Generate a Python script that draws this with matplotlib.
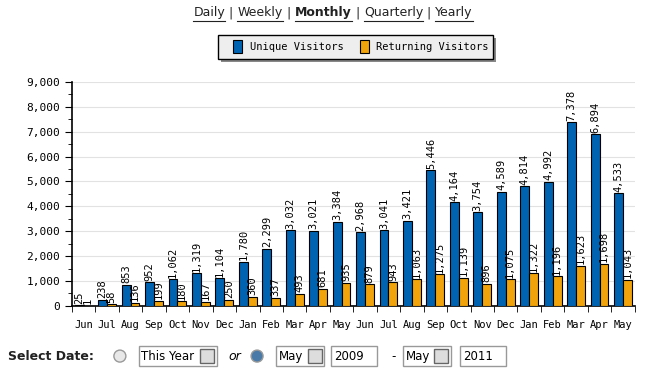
import numpy as np
import matplotlib.pyplot as plt
from matplotlib.patches import Rectangle, Ellipse
from matplotlib.lines import Line2D
from matplotlib.ticker import FuncFormatter, MultipleLocator

months = ["Jun", "Jul", "Aug", "Sep", "Oct", "Nov", "Dec", "Jan", "Feb", "Mar", "Apr", "May",
          "Jun", "Jul", "Aug", "Sep", "Oct", "Nov", "Dec", "Jan", "Feb", "Mar", "Apr", "May"]
unique = [25, 238, 853, 952, 1062, 1319, 1104, 1780, 2299, 3032, 3021, 3384,
          2968, 3041, 3421, 5446, 4164, 3754, 4589, 4814, 4992, 7378, 6894, 4533]
returning = [1, 58, 136, 199, 180, 167, 250, 360, 337, 493, 681, 935,
             879, 943, 1063, 1275, 1139, 896, 1075, 1322, 1196, 1623, 1698, 1043]
links = ["Daily", "Weekly", "Monthly", "Quarterly", "Yearly"]

BLUE = "#0063b1"
ORANGE = "#f0a30a"
MONO = "DejaVu Sans Mono"


def header(fig, y):
    r = fig.canvas.get_renderer()
    W = fig.bbox.width
    items = []
    for i, l in enumerate(links):
        items.append((l, True))
        if i < len(links) - 1:
            items.append((" | ", False))
    texts = []
    for t, is_link in items:
        txt = fig.text(0, y, t, ha="left", va="center", fontsize=9, color="#222",
                       weight="bold" if t == "Monthly" else "normal")
        texts.append((txt, is_link))
    widths = [tx.get_window_extent(r).width / W for tx, _ in texts]
    x = 0.5 - sum(widths) / 2
    for (tx, is_link), wd in zip(texts, widths):
        tx.set_x(x)
        if is_link:
            fig.add_artist(Line2D([x, x + wd], [y - 0.023, y - 0.023], color="#222",
                                  linewidth=0.8, transform=fig.transFigure))
        x += wd


def radio(fig, x, y, fc):
    d = 0.018
    fig.add_artist(Ellipse((x, y), d, d * 666 / 369, transform=fig.transFigure,
                           facecolor=fc, edgecolor="#999"))


def main():
    fig = plt.figure(figsize=(6.66, 3.69), dpi=100)
    ax = fig.add_axes([0.108, 0.171, 0.845, 0.607])

    x = np.arange(len(months))
    w = 0.38
    ax.bar(x - w / 2, unique, w, color=BLUE, edgecolor="black", linewidth=0.8, zorder=3)
    ax.bar(x + w / 2, returning, w, color=ORANGE, edgecolor="black", linewidth=0.8, zorder=3)

    for xi, u, r in zip(x, unique, returning):
        ax.text(xi - w / 2, u + 60, f"{u:,}", rotation=90, ha="center", va="bottom",
                fontsize=7.5, family=MONO, zorder=4)
        ax.text(xi + w / 2, r + 60, f"{r:,}", rotation=90, ha="center", va="bottom",
                fontsize=7.5, family=MONO, zorder=4)

    ax.set_xlim(-0.5, len(months) - 0.5)
    ax.set_ylim(0, 9000)
    ax.yaxis.set_major_locator(MultipleLocator(1000))
    ax.yaxis.set_minor_locator(MultipleLocator(500))
    ax.yaxis.set_major_formatter(FuncFormatter(lambda v, p: f"{int(v):,}"))
    ax.grid(axis="y", which="major", color="#e2e2e2", linewidth=0.8, zorder=0)

    ax.set_xticks(x)
    ax.set_xticklabels(months, family=MONO, fontsize=7.5)
    ax.set_xticks(np.arange(len(months) + 1) - 0.5, minor=True)
    ax.tick_params(axis="x", which="major", length=0, pad=10)
    ax.tick_params(axis="x", which="minor", length=4, direction="out")
    ax.tick_params(axis="y", which="major", length=5, direction="out", labelsize=8)
    ax.tick_params(axis="y", which="minor", length=3, direction="out")
    for lab in ax.get_yticklabels():
        lab.set_family(MONO)

    for s in ["top", "right"]:
        ax.spines[s].set_visible(False)
    ax.spines["left"].set_linewidth(1.2)
    ax.spines["bottom"].set_linewidth(1.2)

    header(fig, 0.965)

    # legend box
    fig.add_artist(Rectangle((0.332, 0.832), 0.413, 0.066, transform=fig.transFigure,
                             facecolor="#888888", edgecolor="none"))
    fig.add_artist(Rectangle((0.327, 0.840), 0.413, 0.066, transform=fig.transFigure,
                             facecolor="#eeeeee", edgecolor="black", linewidth=1))
    fig.add_artist(Rectangle((0.350, 0.857), 0.014, 0.035, transform=fig.transFigure,
                             facecolor=BLUE, edgecolor="black", linewidth=0.8))
    fig.text(0.375, 0.873, "Unique Visitors", ha="left", va="center", fontsize=7.5, family=MONO)
    fig.add_artist(Rectangle((0.540, 0.857), 0.014, 0.035, transform=fig.transFigure,
                             facecolor=ORANGE, edgecolor="black", linewidth=0.8))
    fig.text(0.565, 0.873, "Returning Visitors", ha="left", va="center", fontsize=7.5, family=MONO)

    # bottom date selector
    y0 = 0.035
    fig.text(0.012, y0, "Select Date:", ha="left", va="center", fontsize=9, weight="bold",
             color="#222")
    radio(fig, 0.18, y0, "#e8e8e8")
    fig.add_artist(Rectangle((0.208, y0 - 0.026), 0.118, 0.052, transform=fig.transFigure,
                             facecolor="white", edgecolor="#999"))
    fig.text(0.212, y0, "This Year", ha="left", va="center", fontsize=8.5)
    fig.add_artist(Rectangle((0.301, y0 - 0.018), 0.021, 0.036, transform=fig.transFigure,
                             facecolor="#ddd", edgecolor="#666"))
    fig.text(0.343, y0, "or", ha="left", va="center", fontsize=9, style="italic")
    radio(fig, 0.386, y0, "#4a7ba8")
    fig.add_artist(Rectangle((0.415, y0 - 0.026), 0.072, 0.052, transform=fig.transFigure,
                             facecolor="white", edgecolor="#999"))
    fig.text(0.419, y0, "May", ha="left", va="center", fontsize=8.5)
    fig.add_artist(Rectangle((0.462, y0 - 0.018), 0.021, 0.036, transform=fig.transFigure,
                             facecolor="#ddd", edgecolor="#666"))
    fig.add_artist(Rectangle((0.497, y0 - 0.026), 0.069, 0.052, transform=fig.transFigure,
                             facecolor="white", edgecolor="#999"))
    fig.text(0.502, y0, "2009", ha="left", va="center", fontsize=8.5)
    fig.text(0.588, y0, "-", ha="left", va="center", fontsize=8.5)
    fig.add_artist(Rectangle((0.605, y0 - 0.026), 0.072, 0.052, transform=fig.transFigure,
                             facecolor="white", edgecolor="#999"))
    fig.text(0.609, y0, "May", ha="left", va="center", fontsize=8.5)
    fig.add_artist(Rectangle((0.652, y0 - 0.018), 0.021, 0.036, transform=fig.transFigure,
                             facecolor="#ddd", edgecolor="#666"))
    fig.add_artist(Rectangle((0.691, y0 - 0.026), 0.069, 0.052, transform=fig.transFigure,
                             facecolor="white", edgecolor="#999"))
    fig.text(0.696, y0, "2011", ha="left", va="center", fontsize=8.5)

    fig.savefig("out.png", dpi=100)


if __name__ == "__main__":
    main()
